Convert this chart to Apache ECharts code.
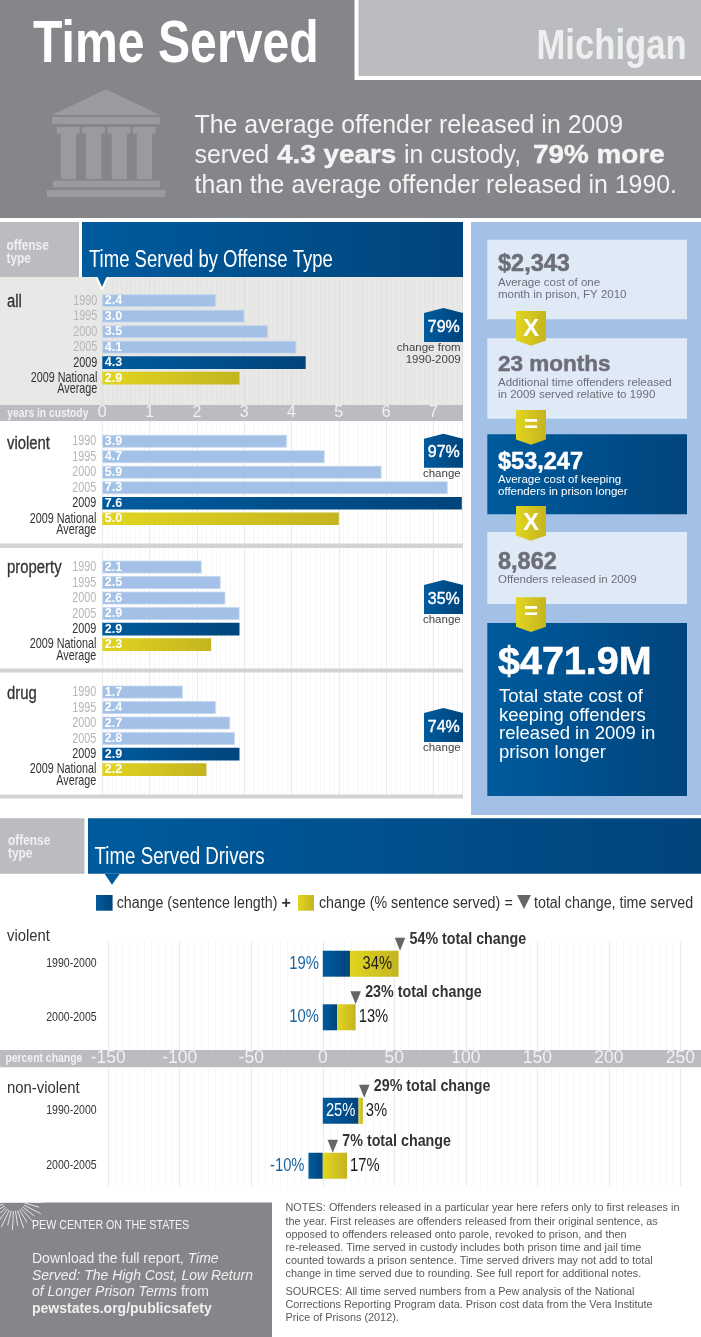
<!DOCTYPE html>
<html>
<head>
<meta charset="utf-8">
<title>Time Served Michigan</title>
<style>
html,body{margin:0;padding:0;background:#fff}
#chart{width:701px;height:1337px}
</style>
<script src="https://cdn.jsdelivr.net/npm/echarts@6/dist/echarts.min.js"></script>
</head>
<body>
<div id="chart"></div>
<script>
// years in custody
var yearLabels = ['1990', '1995', '2000', '2005', '2009', '2009 National\nAverage'];
var allYears = [2.4, 3.0, 3.5, 4.1, 4.3, 2.9];
var violentYears = [3.9, 4.7, 5.9, 7.3, 7.6, 5.0];
var propertyYears = [2.1, 2.5, 2.6, 2.9, 2.9, 2.3];
var drugYears = [1.7, 2.4, 2.7, 2.8, 2.9, 2.2];

// drivers, percent change
var driverPeriods = ['1990-2000', '2000-2005'];
var violentLength = [19, 10];
var violentServed = [34, 13];
var violentTotal = [54, 23];
var nonViolentLength = [25, -10];
var nonViolentServed = [3, 17];
var nonViolentTotal = [29, 7];

var SANS = '"Liberation Sans",Arial,sans-serif';

var chart = echarts.init(document.getElementById('chart'));

function gradient(from, to) {
    return new echarts.graphic.LinearGradient(0, 0, 1, 0, [
        {offset: 0, color: from},
        {offset: 1, color: to}
    ]);
}
var BLUE = gradient('#005b9d', '#00447c');
var YELLOW = gradient('#e2d520', '#c4b420');
var LIGHT = '#a3c1e6';

// no condensed face is installed, so the narrow type is squeezed with scaleX
function txt(x, y, text, font, fill, align, extra) {
    var style = {text: text, font: font, fill: fill, align: align || 'left', textAlign: align || 'left',
        verticalAlign: 'middle', textVerticalAlign: 'middle'};
    var el = {type: 'text', x: x, y: y, style: style, silent: true};
    if (extra) {
        if (extra.scaleX) el.scaleX = extra.scaleX;
        if (extra.stroke) { style.stroke = fill; style.lineWidth = extra.stroke; }
        if (extra.rich) style.rich = extra.rich;
        if (extra.lineHeight) style.lineHeight = extra.lineHeight;
    }
    return el;
}
function rect(x, y, w, h, fill) {
    return {type: 'rect', shape: {x: x, y: y, width: w, height: h}, style: {fill: fill}, silent: true};
}
function poly(points, fill) {
    return {type: 'polygon', shape: {points: points}, style: {fill: fill}, silent: true};
}

// panels that sit under the axis lines
var backRects = [
    rect(0, 0, 701, 218, '#85868a'),
    rect(0, 277, 463, 128, '#e8e9e6'),
    rect(0, 405, 463, 16, '#bbbcc0'),
    rect(0, 1050, 701, 17.3, '#bbbcc0')
];

var g = [];

// separators cover the long vertical lines
g.push(rect(0, 543.5, 463, 4.5, '#d2d3d3'));
g.push(rect(0, 668.5, 463, 4, '#d2d3d3'));
g.push(rect(0, 794.5, 463, 4, '#d2d3d3'));

// header
g.push(rect(354.5, 0, 346.5, 80, '#fff'));
g.push(rect(358.5, 0, 342.5, 76, '#bbbcc0'));
g.push(txt(33, 45, 'Time Served', 'bold 60px ' + SANS, '#fff', 'left', {scaleX: 0.803}));
g.push(txt(536.5, 47, 'Michigan', 'bold 42px ' + SANS, '#eef0ef', 'left', {scaleX: 0.825}));

// courthouse icon
var ICON = '#9a9ba0';
g.push(poly([[106, 89.3], [160, 115], [52, 115]], ICON));
g.push(rect(52, 117, 108, 7, ICON));
[56.8, 82, 107.7, 132.8].forEach(function (x) {
    g.push(rect(x, 127, 22.8, 6.5, ICON));
    g.push(rect(x + 4, 133, 15.2, 46, ICON));
});
g.push(rect(52.7, 180.7, 107, 6.6, ICON));
g.push(rect(47, 190, 118.4, 7, ICON));

// intro text, the bold words run wider than the bold face here
var INTRO = '24.9px ' + SANS;
g.push(txt(194.5, 126, 'The average offender released in 2009', INTRO, '#f4f4f4'));
g.push(txt(194.5, 156, 'served', INTRO, '#f4f4f4'));
g.push(txt(277, 156, '4.3 years', 'bold ' + INTRO, '#f4f4f4', 'left', {scaleX: 1.12, stroke: 0.4}));
g.push(txt(404, 156, 'in custody,', INTRO, '#f4f4f4'));
g.push(txt(533, 156, '79% more', 'bold ' + INTRO, '#f4f4f4', 'left', {scaleX: 1.12, stroke: 0.4}));
g.push(txt(194.5, 186, 'than the average offender released in 1990.', INTRO, '#f4f4f4'));

// section head, top
g.push(rect(0, 222, 79, 55, '#bbbcc0'));
g.push(txt(6.5, 246, 'offense', 'bold 14px ' + SANS, '#f0f0f0', 'left', {scaleX: 0.85}));
g.push(txt(6.5, 259.5, 'type', 'bold 14px ' + SANS, '#f0f0f0', 'left', {scaleX: 0.85}));
g.push(rect(82, 222, 381, 55, BLUE));
g.push(txt(89, 261, 'Time Served by Offense Type', '23px ' + SANS, '#fff', 'left', {scaleX: 0.805}));
g.push(poly([[95, 277], [109, 277], [102, 291.7]], '#fff'));
g.push(poly([[97.5, 277], [106.5, 277], [102, 286.7]], '#005b9d'));

// row names and change badges
[['all', 302], ['violent', 443.7], ['property', 568], ['drug', 694]].forEach(function (r) {
    g.push(txt(7, r[1], r[0], '17.5px ' + SANS, '#333', 'left', {scaleX: 0.85, stroke: 0.3}));
});
function badge(top, pct, lines) {
    g.push(poly([[424, top + 5], [443.5, top], [463, top + 5], [463, top + 34], [424, top + 34]], BLUE));
    g.push(txt(443.8, top + 19.2, pct, '16px ' + SANS, '#fff', 'center', {stroke: 0.4}));
    lines.forEach(function (l, i) {
        g.push(txt(460.7, top + 40 + i * 12, l, '11.5px ' + SANS, '#444', 'right'));
    });
}
badge(308, '79%', ['change from', '1990-2009']);
badge(433.7, '97%', ['change']);
badge(580, '35%', ['change']);
badge(708, '74%', ['change']);
g.push(txt(7.3, 413, 'years in custody', 'bold 13px ' + SANS, '#f2f2f2', 'left', {scaleX: 0.79}));

// cost panel
g.push(rect(471, 222, 230, 593, LIGHT));
g.push(rect(487.3, 239.7, 199.7, 79.6, '#e0e9f6'));
g.push(rect(487.3, 338.3, 199.7, 80.4, '#e0e9f6'));
g.push(rect(487.3, 434.3, 199.7, 80, BLUE));
g.push(rect(487.3, 532, 199.7, 72, '#e0e9f6'));
g.push(rect(487.3, 623, 199.7, 173, BLUE));
function connector(top, sign, cy) {
    g.push(poly([[516, top], [546, top], [546, top + 29.5], [531, top + 34.7], [516, top + 29.5]], YELLOW));
    g.push(txt(531, cy, sign, 'bold 24px ' + SANS, '#fff', 'center'));
}
connector(311, 'X', 329);
connector(410, '=', 425.5);
connector(506, 'X', 523.5);
connector(597.3, '=', 612.5);
var GREY = '#6d6e7a';
g.push(txt(498, 265, '$2,343', 'bold 23.5px ' + SANS, GREY, 'left', {stroke: 0.5}));
g.push(txt(498, 283.3, 'Average cost of one', '11.5px ' + SANS, GREY));
g.push(txt(498, 295, 'month in prison, FY 2010', '11.5px ' + SANS, GREY));
g.push(txt(498, 365, '23 months', 'bold 22.5px ' + SANS, GREY, 'left', {stroke: 0.5}));
g.push(txt(498, 383, 'Additional time offenders released', '11.5px ' + SANS, GREY));
g.push(txt(498, 395, 'in 2009 served relative to 1990', '11.5px ' + SANS, GREY));
g.push(txt(498, 463, '$53,247', 'bold 23.5px ' + SANS, '#fff', 'left', {stroke: 0.5}));
g.push(txt(498, 480, 'Average cost of keeping', '11.5px ' + SANS, '#fff'));
g.push(txt(498, 492.3, 'offenders in prison longer', '11.5px ' + SANS, '#fff'));
g.push(txt(498, 563, '8,862', 'bold 23.5px ' + SANS, GREY, 'left', {stroke: 0.5}));
g.push(txt(498, 580, 'Offenders released in 2009', '11.5px ' + SANS, GREY));
g.push(txt(498, 663.5, '$471.9M', 'bold 39.5px ' + SANS, '#fff', 'left', {stroke: 0.6}));
['Total state cost of', 'keeping offenders', 'released in 2009 in', 'prison longer'].forEach(function (l, i) {
    g.push(txt(499, [696.7, 715.7, 734, 753][i], l, '18.5px ' + SANS, '#fff'));
});

// section head, drivers
g.push(rect(0, 818.3, 84.5, 55.5, '#bbbcc0'));
g.push(txt(8, 840.7, 'offense', 'bold 14px ' + SANS, '#f0f0f0', 'left', {scaleX: 0.85}));
g.push(txt(8, 853.7, 'type', 'bold 14px ' + SANS, '#f0f0f0', 'left', {scaleX: 0.85}));
g.push(rect(88, 818.3, 613, 55.5, BLUE));
g.push(txt(94.5, 857.7, 'Time Served Drivers', '23px ' + SANS, '#fff', 'left', {scaleX: 0.815}));
g.push(poly([[104.6, 873.8], [119.8, 873.8], [112, 884.7]], '#005b9d'));

// legend
var LEG = {scaleX: 0.89};
g.push(rect(96, 895, 16.6, 15.7, BLUE));
g.push(txt(116.7, 903.3, 'change (sentence length)', '16px ' + SANS, '#333', 'left', LEG));
g.push(txt(281.5, 903.3, '+', 'bold 16px ' + SANS, '#333'));
g.push(rect(298, 895, 16, 15.7, YELLOW));
g.push(txt(319, 903.3, 'change (% sentence served)', '16px ' + SANS, '#333', 'left', LEG));
g.push(txt(504.5, 903.3, '=', '16px ' + SANS, '#333', 'left', LEG));
g.push(poly([[517, 895], [531, 895], [524, 909]], '#666'));
g.push(txt(534, 903.3, 'total change, time served', '16px ' + SANS, '#333', 'left', LEG));

g.push(txt(7, 936.7, 'violent', '16.5px ' + SANS, '#333', 'left', {scaleX: 0.9}));
g.push(txt(7, 1088, 'non-violent', '16.5px ' + SANS, '#333', 'left', {scaleX: 0.9}));
g.push(txt(5.4, 1058.5, 'percent change', 'bold 13px ' + SANS, '#f2f2f2', 'left', {scaleX: 0.8}));

// footer box
g.push(rect(0, 1202.5, 272, 134.5, '#85868a'));
for (var a = 5; a <= 175; a += 11) {
    var rad = a * Math.PI / 180;
    var r2 = a % 2 ? 30 : 26;
    g.push({type: 'line', silent: true,
        shape: {x1: 14 + 11 * Math.cos(rad), y1: 1200 + 11 * Math.sin(rad), x2: 14 + r2 * Math.cos(rad), y2: 1200 + r2 * Math.sin(rad)},
        style: {stroke: '#e4e4e6', lineWidth: 1}});
}
g.push(rect(0, 1195, 40, 7.5, '#fff'));
g.push(txt(32, 1225, 'PEW CENTER ON THE STATES', '13.5px ' + SANS, '#f4f4f4', 'left', {scaleX: 0.79}));
var FOOT = '14px ' + SANS;
var footRich = {i: {font: 'italic ' + FOOT, fill: '#f0f0f0'}, r: {font: FOOT, fill: '#f0f0f0'}};
g.push(txt(32, 1259, '{r|Download the full report, }{i|Time}', FOOT, '#f0f0f0', 'left', {rich: footRich}));
g.push(txt(32, 1276, '{i|Served: The High Cost, Low Return}', FOOT, '#f0f0f0', 'left', {rich: footRich}));
g.push(txt(32, 1292.3, '{i|of Longer Prison Terms }{r|from}', FOOT, '#f0f0f0', 'left', {rich: footRich}));
g.push(txt(32, 1309, 'pewstates.org/publicsafety', 'bold ' + FOOT, '#f0f0f0'));

// notes
var noteLines = [
    [1208, 'NOTES: Offenders released in a particular year here refers only to first releases in'],
    [1222.3, 'the year. First releases are offenders released from their original sentence, as'],
    [1235.3, 'opposed to offenders released onto parole, revoked to prison, and then'],
    [1248.3, 're-released. Time served in custody includes both prison time and jail time'],
    [1261.3, 'counted towards a prison sentence. Time served drivers may not add to total'],
    [1274.3, 'change in time served due to rounding. See full report for additional notes.'],
    [1292.3, 'SOURCES: All time served numbers from a Pew analysis of the National'],
    [1305, 'Corrections Reporting Program data. Prison cost data from the Vera Institute'],
    [1318, 'Price of Prisons (2012).']
];
noteLines.forEach(function (n) {
    g.push(txt(285.5, n[0], n[1], '10.85px ' + SANS, '#58595d'));
});

// grids: the first two of each chart part just carry the long vertical lines
var YEARS_LEFT = 102.3, YEARS_W = 359.5, DRV_LEFT = 108.2, DRV_W = 572.2;
var grids = [
    {left: YEARS_LEFT, width: YEARS_W, top: 277, height: 128},
    {left: YEARS_LEFT, width: YEARS_W, top: 421, height: 376},
    {left: YEARS_LEFT, width: YEARS_W, top: 292.9, height: 93},
    {left: YEARS_LEFT, width: YEARS_W, top: 433.5, height: 93},
    {left: YEARS_LEFT, width: YEARS_W, top: 559.3, height: 93},
    {left: YEARS_LEFT, width: YEARS_W, top: 684.3, height: 93},
    {left: DRV_LEFT, width: DRV_W, top: 941.7, height: 108.3},
    {left: DRV_LEFT, width: DRV_W, top: 1067.3, height: 118.7},
    {left: DRV_LEFT, width: DRV_W, top: 936.9, height: 107.2},
    {left: DRV_LEFT, width: DRV_W, top: 1083.4, height: 109.8}
];

function lineAxis(idx, min, max, interval, major, minor, labelSize, labelMargin) {
    return {
        type: 'value', gridIndex: idx, min: min, max: max, interval: interval, z: -0.5,
        axisLine: {show: false}, axisTick: {show: false},
        axisLabel: labelSize ? {
            show: true, color: '#f1f1f3', fontFamily: SANS, fontSize: labelSize,
            margin: labelMargin, verticalAlign: 'middle', showMaxLabel: max % interval === 0
        } : {show: false},
        splitLine: {show: true, lineStyle: {color: major, width: 1.2}},
        minorSplitLine: {show: true, lineStyle: {color: minor, width: 1}},
        minorTick: {show: false, splitNumber: 10}
    };
}
function hiddenX(idx, min, max) {
    return {type: 'value', gridIndex: idx, min: min, max: max, show: false};
}
function hiddenY(idx) {
    return {type: 'value', gridIndex: idx, min: 0, max: 1, show: false};
}
function categoryAxis(idx, names) {
    return {
        type: 'category', gridIndex: idx, inverse: true, data: names,
        axisLine: {show: false}, axisTick: {show: false}, axisLabel: {show: false}
    };
}

// text marks placed through the axes, squeezed like the narrow type above
function textSeries(idx, rows, make) {
    return {
        type: 'custom', coordinateSystem: 'cartesian2d', xAxisIndex: idx, yAxisIndex: idx,
        z: 5, silent: true, encode: {x: 0, y: 1}, data: rows,
        renderItem: function (params, api) {
            return make(params.dataIndex, api.coord([api.value(0), api.value(1)]));
        }
    };
}
function yearNames(idx, margin) {
    var rows = yearLabels.map(function (n, i) { return [0, i]; });
    return textSeries(idx, rows, function (i, p) {
        var name = yearLabels[i];
        var fill = name.indexOf('2009') === 0 ? '#333' : '#b5b6b9';
        var el = txt(p[0] - margin, p[1], name, '14.5px ' + SANS, fill, 'right', {scaleX: 0.745, lineHeight: 11.5});
        if (name.indexOf('\n') > 0) {
            el.y = p[1] - 6;
            el.style.verticalAlign = 'top';
            el.style.textVerticalAlign = 'top';
        }
        return el;
    });
}
function periodNames(idx) {
    var rows = driverPeriods.map(function (n, i) { return [-150, i]; });
    return textSeries(idx, rows, function (i, p) {
        return txt(p[0] - 11.6, p[1], driverPeriods[i], '13px ' + SANS, '#333', 'right', {scaleX: 0.81});
    });
}

function yearSeries(idx, values) {
    return {
        type: 'bar', xAxisIndex: idx, yAxisIndex: idx, barWidth: 12.7,
        label: {
            show: true, position: 'insideLeft', distance: 2.5, color: '#fff',
            fontFamily: SANS, fontWeight: 'bold', fontSize: 12.5,
            formatter: function (p) { return p.value.toFixed(1); }
        },
        data: values.map(function (v, i) {
            if (i === 4) return {value: v, itemStyle: {color: BLUE}};
            if (i === 5) return {value: v, itemStyle: {color: YELLOW}};
            return {value: v, itemStyle: {color: LIGHT, borderColor: '#c3d5ee', borderWidth: 0.8}};
        })
    };
}
function driverSeries(idx, lengths, served, totals) {
    var stack = 'g' + idx;
    var PCT = '18px ' + SANS;
    return [
        {
            type: 'bar', xAxisIndex: idx, yAxisIndex: idx, stack: stack, barWidth: 26, itemStyle: {color: BLUE},
            data: lengths
        },
        {
            type: 'bar', xAxisIndex: idx, yAxisIndex: idx, stack: stack, barWidth: 26, itemStyle: {color: YELLOW},
            data: served
        },
        {
            type: 'scatter', xAxisIndex: idx, yAxisIndex: idx, symbol: 'triangle', symbolRotate: 180,
            symbolSize: [10.5, 13], symbolOffset: [0, -19.5], itemStyle: {color: '#666', opacity: 1}, z: 4,
            data: totals.map(function (v, i) { return [v, i]; })
        },
        // percent of the blue piece, beside the bar unless it is big enough to hold it
        textSeries(idx, lengths.map(function (v, i) {
            return [v >= 20 ? v / 2 : Math.min(0, v), i];
        }), function (i, p) {
            var v = lengths[i], inside = v >= 20;
            return txt(inside ? p[0] : p[0] - 4, p[1], v + '%', PCT, inside ? '#fff' : '#1a64a0', inside ? 'center' : 'right', {scaleX: 0.82});
        }),
        // percent of the yellow piece
        textSeries(idx, served.map(function (v, i) {
            var start = Math.max(0, lengths[i]);
            return [v >= 20 ? start + v / 2 : start + v, i];
        }), function (i, p) {
            var v = served[i], inside = v >= 20;
            return txt(p[0] + 3, p[1], v + '%', PCT, '#1c1c1c', inside ? 'center' : 'left', {scaleX: 0.82});
        }),
        // total change, next to the triangle
        textSeries(idx, totals.map(function (v, i) { return [v, i]; }), function (i, p) {
            return txt(p[0] + 9.5, p[1] - 24.5, totals[i] + '% total change', 'bold 16.5px ' + SANS, '#333', 'left', {scaleX: 0.865});
        })
    ];
}

var series = [{
    type: 'custom', coordinateSystem: 'none', z: -1, silent: true, data: [0],
    renderItem: function () { return {type: 'group', children: backRects}; }
}];
series.push(
    yearSeries(2, allYears), yearSeries(3, violentYears), yearSeries(4, propertyYears), yearSeries(5, drugYears),
    yearNames(2, 5), yearNames(3, 6), yearNames(4, 6), yearNames(5, 6),
    periodNames(8), periodNames(9)
);
series = series.concat(
    driverSeries(8, violentLength, violentServed, violentTotal),
    driverSeries(9, nonViolentLength, nonViolentServed, nonViolentTotal)
);

var option = {
    animation: false,
    backgroundColor: '#fff',
    grid: grids,
    xAxis: [
        lineAxis(0, 0, 7.6, 1, '#dedfdc', '#e3e4e1', 16, 8),
        lineAxis(1, 0, 7.6, 1, '#ebebeb', '#f7f7f7'),
        hiddenX(2, 0, 7.6), hiddenX(3, 0, 7.6), hiddenX(4, 0, 7.6), hiddenX(5, 0, 7.6),
        lineAxis(6, -150, 250, 50, '#ebebeb', '#f7f7f7', 17.5, 8.6),
        lineAxis(7, -150, 250, 50, '#ebebeb', '#f7f7f7'),
        hiddenX(8, -150, 250), hiddenX(9, -150, 250)
    ],
    yAxis: [
        hiddenY(0), hiddenY(1),
        categoryAxis(2, yearLabels), categoryAxis(3, yearLabels), categoryAxis(4, yearLabels), categoryAxis(5, yearLabels),
        hiddenY(6), hiddenY(7),
        categoryAxis(8, driverPeriods), categoryAxis(9, driverPeriods)
    ],
    series: series,
    graphic: {z: 10, elements: g}
};
chart.setOption(option);
</script>
</body>
</html>
